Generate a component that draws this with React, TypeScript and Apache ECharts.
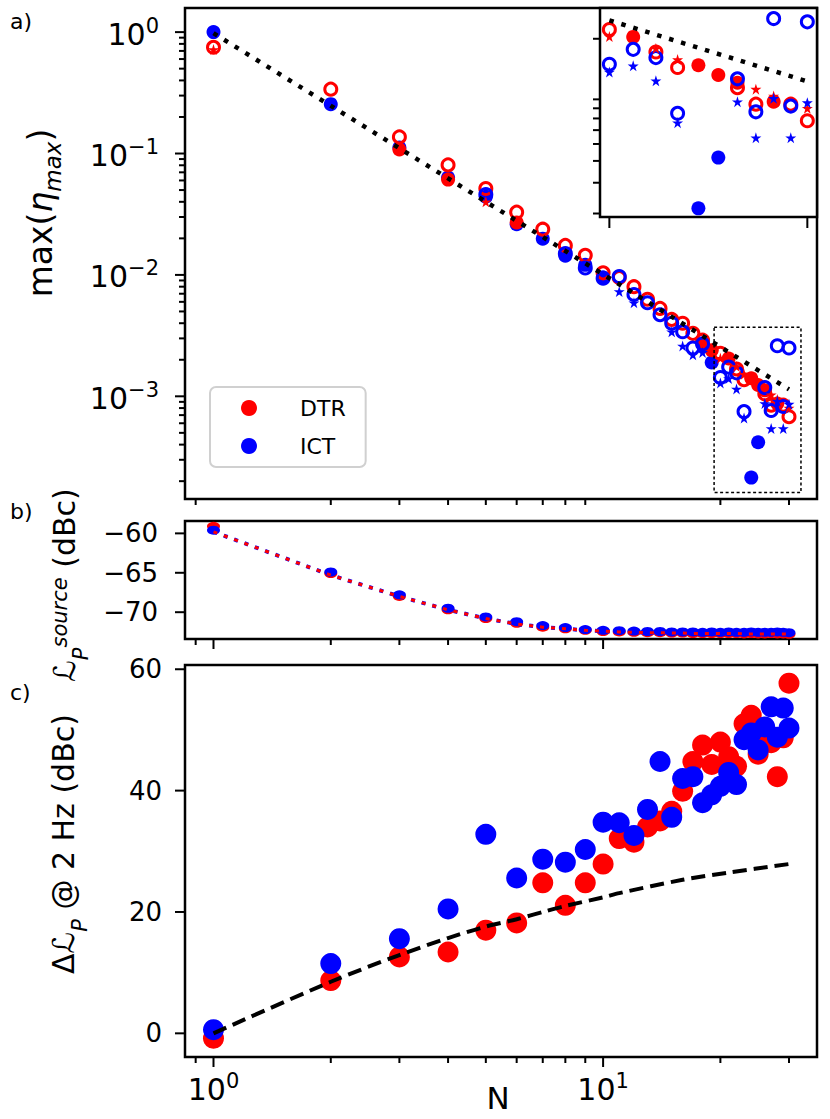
import React, { useEffect, useRef } from 'react';
import * as echarts from 'echarts';

// ---------- data ----------
const N = [1, 2, 3, 4, 5, 6, 7, 8, 9, 10, 11, 12, 13, 14, 15, 16, 17, 18, 19, 20, 21, 22, 23, 24, 25, 26, 27, 28, 29, 30];

// panel a) max(eta_max)
const dtrOpen = [0.75, 0.339, 0.137, 0.0806, 0.0515, 0.0329, 0.0238, 0.0175, 0.0145, 0.0104, 0.0095, 0.008, 0.0063, 0.0053, 0.0043, 0.004, 0.0033, 0.0029, null, 2.26e-3, null, 1.68e-3, 1.37e-3, null, null, 1.05e-3, 8.45e-4, null, 8.45e-4, 6.79e-4];
const dtrDot = [null, null, 0.108, 0.061, null, 0.027, null, null, null, null, null, null, null, null, null, null, null, 0.0027, 0.0024, null, 2.05e-3, null, null, 1.41e-3, 1.24e-3, 1.12e-3, null, 8.73e-4, null, null];
const dtrStar = [0.72, null, null, null, 0.04, null, null, null, null, null, null, null, null, null, null, null, null, null, null, 2.06e-3, null, 1.76e-3, 1.52e-3, null, null, null, 1.03e-3, 9.4e-4, null, 8.0e-4];
const ictOpen = [null, null, null, null, 0.046, null, null, 0.015, 0.0114, 0.0094, 0.0097, 0.0069, 0.0059, 0.0047, 0.004, 0.0034, 0.0025, 0.0027, null, 1.43e-3, 1.74e-3, 1.56e-3, 7.49e-4, null, null, 1.18e-3, 7.64e-4, 2.61e-3, 8.24e-4, 2.5e-3];
const ictDot = [1.0, 0.255, 0.112, 0.0635, 0.044, 0.0262, 0.0199, 0.0144, 0.0121, 0.0095, null, null, null, null, null, null, null, null, 0.0019, null, null, null, null, 2.14e-4, 4.18e-4, null, null, null, null, null];
const ictStar = [null, null, null, null, null, null, null, null, null, null, 0.0073, 0.0059, null, null, 0.0034, 0.0026, 0.0022, 0.0023, null, 1.29e-3, 1.4e-3, 1.15e-3, 6.62e-4, null, null, 8.73e-4, 5.43e-4, 9.12e-4, 5.43e-4, 8.62e-4];
const aTheoryN = [1, 30];
const aTheory = [0.98, 1.14e-3];
const insetTheoryN = [20, 30];
const insetTheory = [2.55e-3, 1.14e-3];
const boxN = [19.27, 32.2, 32.2, 19.27, 19.27];
const boxV = [3.7e-3, 3.7e-3, 1.61e-4, 1.61e-4, 3.7e-3];

// panel b) L_P^source (dBc)
const bDtr = [-59.1, -65.1, -68.0, -69.7, -70.8, -71.4, -71.9, -72.1, -72.3, -72.45, -72.5, -72.55, -72.6, -72.6, -72.65, -72.65, -72.7, -72.7, -72.7, -72.7, -72.7, -72.7, -72.75, -72.7, -72.75, -72.75, -72.7, -72.75, -72.75, -72.8];
const bIct = [-59.6, -64.9, -67.8, -69.5, -70.6, -71.2, -71.7, -71.95, -72.2, -72.3, -72.35, -72.4, -72.45, -72.45, -72.5, -72.5, -72.5, -72.55, -72.5, -72.55, -72.5, -72.55, -72.55, -72.5, -72.55, -72.55, -72.55, -72.5, -72.55, -72.6];
const bTheory = [-59.8, -65.3, -68.0, -69.7, -70.8, -71.5, -71.9, -72.1, -72.3, -72.4, -72.5, -72.55, -72.6, -72.6, -72.65, -72.65, -72.7, -72.7, -72.7, -72.7, -72.7, -72.7, -72.75, -72.75, -72.75, -72.75, -72.75, -72.75, -72.75, -72.8];

// panel c) Delta L_P @ 2 Hz (dBc)
const cDtr = [-0.8, 8.7, 12.6, 13.4, 17.0, 18.2, 24.8, 21.1, 24.8, 27.9, 32.1, 31.5, 34.0, 35.0, 36.6, 39.9, 44.8, 47.5, 44.3, 48.0, 45.6, 44.0, 51.0, 52.4, 46.0, 49.0, 47.9, 42.3, 48.7, 57.7];
const cIct = [0.6, 11.5, 15.6, 20.5, 32.8, 25.6, 28.7, 28.2, 30.3, 34.8, 34.7, 32.6, 36.9, 44.8, 35.6, 42.0, 42.3, 38.0, 39.3, 40.7, 43.0, 41.0, 48.4, 49.5, 46.7, 50.5, 53.8, 48.8, 53.6, 50.3];
const cTheoryN = [1, 2, 3, 4, 5, 6, 7, 8, 10, 11, 16, 21, 30];
const cTheory = [0, 8.5, 12.9, 15.7, 17.6, 18.8, 20.0, 21.0, 22.4, 23.1, 25.3, 26.5, 27.9];

// ticks
const xMajorTicks = [1, 10];
const xMinorTicks = [0.9, 2, 3, 4, 5, 6, 7, 8, 9, 20, 30];
const aYMajorTicks = [1, 0.1, 0.01, 0.001];
const aYMinorTicks = [1e-1, 1e-2, 1e-3, 1e-4].flatMap((d) => [2, 3, 4, 5, 6, 7, 8, 9].map((m) => +(m * d).toPrecision(3)));
const bYTicks = [-70, -65, -60];
const cYTicks = [0, 20, 40, 60];
const insetXTicks = [20, 30];
const insetYTicks = [2e-3, 9e-4, 8e-4, 7e-4, 6e-4, 5e-4, 4e-4, 3e-4, 2e-4];

// ---------- style ----------
const FONT = 'DejaVu Sans';
const RED = '#ff0000';
const BLUE = '#0000ff';
const STAR = 'path://M0,-10L2.23,-3.07L9.51,-3.09L3.61,1.17L5.88,8.09L0,3.8L-5.88,8.09L-3.61,1.17L-9.51,-3.09L-2.23,-3.07Z';

const X_RANGE = [0.845, 35.4];
const A_RANGE = [1.426e-4, 1.58];
const B_RANGE = [-73.4, -58.43];
const C_RANGE = [-3.9, 60.7];
const I_X_RANGE = [19.62, 30.6];
const I_Y_RANGE = [1.91e-4, 3.0e-3];

const pairs = (xs: number[], ys: (number | null)[]) =>
  xs.map((x, i) => [x, ys[i]]).filter((p) => p[1] !== null && p[1] !== undefined);

const powLabel = (v: number) => {
  const e = Math.log10(v);
  const r = Math.round(e);
  if (Math.abs(e - r) > 1e-6) return '';
  return `{b|10}{e|${r < 0 ? '\u2212' + -r : r}}`;
};
const powRich = {
  b: { fontSize: 30, fontFamily: FONT, color: '#000', lineHeight: 34, verticalAlign: 'bottom' },
  e: { fontSize: 21, fontFamily: FONT, color: '#000', lineHeight: 21, verticalAlign: 'top' },
};
const minusFmt = (step: number) => (v: number) => {
  if (Math.abs(v / step - Math.round(v / step)) > 1e-6) return '';
  return v < 0 ? '\u2212' + Math.abs(v) : String(v);
};

const hiddenAxisParts = {
  axisLine: { show: false },
  axisTick: { show: false },
  splitLine: { show: false },
  minorTick: { show: false },
  minorSplitLine: { show: false },
};

function tickSeries(xi: number, dir: 'x' | 'y', values: number[], ref: number, len: number) {
  return {
    type: 'custom',
    xAxisIndex: xi,
    yAxisIndex: xi,
    silent: true,
    clip: false,
    z: 20,
    data: values.map((v) => (dir === 'x' ? [v, ref] : [ref, v])),
    encode: { x: 0, y: 1 },
    renderItem: (params: any, api: any) => {
      const cs = params.coordSys;
      const p = api.coord([api.value(0), api.value(1)]);
      if (dir === 'x') {
        const y0 = cs.y + cs.height;
        return { type: 'line', shape: { x1: p[0], y1: y0, x2: p[0], y2: y0 + len }, style: { stroke: '#000', lineWidth: 2 } };
      }
      return { type: 'line', shape: { x1: cs.x - len, y1: p[1], x2: cs.x, y2: p[1] }, style: { stroke: '#000', lineWidth: 2 } };
    },
  };
}

function markerSeries(name: string, ys: (number | null)[], gi: number, kind: 'open' | 'dot' | 'star', color: string, z: number) {
  const base: any = {
    name,
    type: 'scatter',
    xAxisIndex: gi,
    yAxisIndex: gi,
    data: pairs(N, ys),
    z,
    silent: true,
  };
  if (kind === 'open') {
    base.symbol = 'circle';
    base.symbolSize = 12;
    base.itemStyle = { color: 'rgba(0,0,0,0)', borderColor: color, borderWidth: 3, opacity: 1 };
  } else if (kind === 'dot') {
    base.symbol = 'circle';
    base.symbolSize = 14;
    base.itemStyle = { color, opacity: 1 };
  } else {
    base.symbol = STAR;
    base.symbolSize = 11;
    base.itemStyle = { color, opacity: 1 };
  }
  return base;
}

export default function App() {
  const ref = useRef<HTMLDivElement>(null);
  useEffect(() => {
    document.body.style.margin = '0';
    const chart = echarts.init(ref.current!, null, { renderer: 'svg' });

    const grids = [
      { left: 185, top: 8, width: 632, height: 491 },
      { left: 185, top: 521, width: 632, height: 118 },
      { left: 185, top: 665, width: 632, height: 392 },
      { left: 600, top: 8, width: 217, height: 209 },
    ].map((g, i) => ({
      ...g,
      show: true,
      borderColor: '#000',
      borderWidth: 2.5,
      backgroundColor: i === 3 ? '#ffffff' : 'transparent',
      containLabel: false,
      outerBoundsMode: 'none',
      z: i === 3 ? 5 : 0,
    }));

    const xAxes: any[] = [0, 1, 2].map((gi) => ({
      type: 'log',
      logBase: 10,
      gridIndex: gi,
      min: X_RANGE[0],
      max: X_RANGE[1],
      ...hiddenAxisParts,
      axisLabel:
        gi === 2
          ? { show: true, formatter: powLabel, rich: powRich, margin: 13, showMinLabel: false, showMaxLabel: false }
          : { show: false },
    }));
    xAxes.push({
      type: 'log',
      logBase: 10,
      gridIndex: 3,
      min: I_X_RANGE[0],
      max: I_X_RANGE[1],
      ...hiddenAxisParts,
      axisLabel: { show: false },
    });

    const yAxes: any[] = [
      {
        type: 'log',
        logBase: 10,
        gridIndex: 0,
        min: A_RANGE[0],
        max: A_RANGE[1],
        ...hiddenAxisParts,
        axisLabel: { show: true, formatter: powLabel, rich: powRich, margin: 26, showMinLabel: false, showMaxLabel: false },
      },
      {
        type: 'value',
        gridIndex: 1,
        min: B_RANGE[0],
        max: B_RANGE[1],
        splitNumber: 3,
        ...hiddenAxisParts,
        axisLabel: { show: true, formatter: minusFmt(5), fontSize: 26, fontFamily: FONT, color: '#000', margin: 27, showMinLabel: false, showMaxLabel: false },
      },
      {
        type: 'value',
        gridIndex: 2,
        min: C_RANGE[0],
        max: C_RANGE[1],
        splitNumber: 3,
        ...hiddenAxisParts,
        axisLabel: { show: true, formatter: minusFmt(20), fontSize: 26, fontFamily: FONT, color: '#000', margin: 23, showMinLabel: false, showMaxLabel: false },
      },
      {
        type: 'log',
        logBase: 10,
        gridIndex: 3,
        min: I_Y_RANGE[0],
        max: I_Y_RANGE[1],
        ...hiddenAxisParts,
        axisLabel: { show: false },
      },
    ];

    const series: any[] = [];
    // panel a + inset markers
    [0, 3].forEach((gi) => {
      series.push(markerSeries(gi === 0 ? 'ICT' : 'ICT inset', ictDot, gi, 'dot', BLUE, gi === 0 ? 2 : 6));
      series.push(markerSeries(gi === 0 ? 'DTR' : 'DTR inset', dtrDot, gi, 'dot', RED, gi === 0 ? 2 : 6));
      series.push(markerSeries('DTR open ' + gi, dtrOpen, gi, 'open', RED, gi === 0 ? 3 : 7));
      series.push(markerSeries('ICT open ' + gi, ictOpen, gi, 'open', BLUE, gi === 0 ? 3 : 7));
      series.push(markerSeries('DTR star ' + gi, dtrStar, gi, 'star', RED, gi === 0 ? 3 : 7));
      series.push(markerSeries('ICT star ' + gi, ictStar, gi, 'star', BLUE, gi === 0 ? 3 : 7));
    });
    series.push({
      name: 'theory a',
      type: 'line',
      xAxisIndex: 0,
      yAxisIndex: 0,
      data: pairs(aTheoryN, aTheory),
      symbol: 'none',
      silent: true,
      z: 4,
      lineStyle: { color: '#000', width: 4.5, type: [4.5, 8] },
    });
    series.push({
      name: 'theory inset',
      type: 'line',
      xAxisIndex: 3,
      yAxisIndex: 3,
      data: pairs(insetTheoryN, insetTheory),
      symbol: 'none',
      silent: true,
      z: 8,
      lineStyle: { color: '#000', width: 4.5, type: [4.5, 8] },
    });
    series.push({
      name: 'zoom box',
      type: 'line',
      xAxisIndex: 0,
      yAxisIndex: 0,
      data: pairs(boxN, boxV),
      symbol: 'none',
      silent: true,
      z: 4,
      lineStyle: { color: '#000', width: 1.5, type: [3, 2.5] },
    });
    // panel b
    series.push({ name: 'b DTR', type: 'scatter', xAxisIndex: 1, yAxisIndex: 1, data: pairs(N, bDtr), symbol: 'circle', symbolSize: [13, 9], itemStyle: { color: RED, opacity: 1 }, z: 2, silent: true });
    series.push({ name: 'b ICT', type: 'scatter', xAxisIndex: 1, yAxisIndex: 1, data: pairs(N, bIct), symbol: 'circle', symbolSize: [13, 9], itemStyle: { color: BLUE, opacity: 1 }, z: 3, silent: true });
    series.push({ name: 'b theory ICT', type: 'line', xAxisIndex: 1, yAxisIndex: 1, data: pairs(N, bTheory), symbol: 'none', silent: true, z: 4, lineStyle: { color: BLUE, width: 4, type: [4, 7] } });
    series.push({ name: 'b theory DTR', type: 'line', xAxisIndex: 1, yAxisIndex: 1, data: pairs(N, bTheory), symbol: 'none', silent: true, z: 5, lineStyle: { color: RED, width: 3, type: [4, 7] } });
    // panel c
    series.push({ name: 'c DTR', type: 'scatter', xAxisIndex: 2, yAxisIndex: 2, data: pairs(N, cDtr), symbol: 'circle', symbolSize: 21, itemStyle: { color: RED, opacity: 1 }, z: 2, silent: true });
    series.push({ name: 'c ICT', type: 'scatter', xAxisIndex: 2, yAxisIndex: 2, data: pairs(N, cIct), symbol: 'circle', symbolSize: 21, itemStyle: { color: BLUE, opacity: 1 }, z: 3, silent: true });
    series.push({ name: 'c theory', type: 'line', xAxisIndex: 2, yAxisIndex: 2, data: pairs(cTheoryN, cTheory), symbol: 'none', smooth: 0.3, silent: true, z: 4, lineStyle: { color: '#000', width: 4, type: [14, 7] } });

    // ticks
    series.push(tickSeries(0, 'x', xMinorTicks, A_RANGE[0], 6));
    series.push(tickSeries(0, 'y', aYMajorTicks, X_RANGE[0], 10));
    series.push(tickSeries(0, 'y', aYMinorTicks, X_RANGE[0], 6));
    series.push(tickSeries(1, 'x', xMajorTicks, B_RANGE[0], 10));
    series.push(tickSeries(1, 'x', xMinorTicks, B_RANGE[0], 6));
    series.push(tickSeries(1, 'y', bYTicks, X_RANGE[0], 10));
    series.push(tickSeries(2, 'x', xMajorTicks, C_RANGE[0], 10));
    series.push(tickSeries(2, 'x', xMinorTicks, C_RANGE[0], 6));
    series.push(tickSeries(2, 'y', cYTicks, X_RANGE[0], 10));
    series.push(tickSeries(3, 'x', insetXTicks, I_Y_RANGE[0], 11));
    series.push(tickSeries(3, 'y', insetYTicks, I_X_RANGE[0], 7));

    const subStyle = { fontFamily: FONT, color: '#000' };
    chart.setOption({
      animation: false,
      backgroundColor: '#ffffff',
      grid: grids,
      xAxis: xAxes,
      yAxis: yAxes,
      series,
      legend: {
        data: [
          { name: 'DTR', icon: 'circle', itemStyle: { color: RED } },
          { name: 'ICT', icon: 'circle', itemStyle: { color: BLUE } },
        ],
        orient: 'vertical',
        left: 210,
        top: 387,
        padding: [10, 20, 10, 31],
        itemGap: 16,
        itemWidth: 16,
        itemHeight: 16,
        selectedMode: false,
        textStyle: { fontSize: 22, fontFamily: FONT, color: '#000', padding: [0, 0, 0, 38] },
        borderColor: '#d0d0d0',
        borderWidth: 2,
        borderRadius: 6,
        backgroundColor: 'rgba(255,255,255,0.8)',
        z: 30,
      },
      graphic: [
        { type: 'text', x: 10, y: 21, style: { text: 'a)', fontSize: 22, fontFamily: FONT, fill: '#000', verticalAlign: 'middle' } },
        { type: 'text', x: 10, y: 511, style: { text: 'b)', fontSize: 22, fontFamily: FONT, fill: '#000', verticalAlign: 'middle' } },
        { type: 'text', x: 10, y: 692, style: { text: 'c)', fontSize: 22, fontFamily: FONT, fill: '#000', verticalAlign: 'middle' } },
        { type: 'text', x: 498, y: 1098, style: { text: 'N', fontSize: 31, fontFamily: FONT, fill: '#000', align: 'center', verticalAlign: 'middle' } },
        {
          type: 'text',
          x: 44,
          y: 213,
          rotation: Math.PI / 2,
          style: {
            text: '{n|max(}{i|η}{s|max}{n|)}',
            align: 'center',
            verticalAlign: 'middle',
            rich: {
              n: { ...subStyle, fontSize: 33, lineHeight: 40, verticalAlign: 'top' },
              i: { ...subStyle, fontSize: 33, lineHeight: 40, verticalAlign: 'top', fontStyle: 'italic' },
              s: { ...subStyle, fontSize: 23, lineHeight: 22, verticalAlign: 'bottom', fontStyle: 'italic' },
            },
          },
        },
        {
          type: 'text',
          x: 70,
          y: 585,
          rotation: Math.PI / 2,
          style: {
            text: '{L|ℒ}{p|P}{u|source}{n| (dBc)}',
            align: 'center',
            verticalAlign: 'middle',
            rich: {
              L: { ...subStyle, fontSize: 30, lineHeight: 42, verticalAlign: 'top', fontStyle: 'italic' },
              n: { ...subStyle, fontSize: 30, lineHeight: 42, verticalAlign: 'top' },
              u: { ...subStyle, fontSize: 21, lineHeight: 20, verticalAlign: 'top', fontStyle: 'italic' },
              p: { ...subStyle, fontSize: 21, lineHeight: 30, verticalAlign: 'bottom', fontStyle: 'italic' },
            },
          },
        },
        {
          type: 'text',
          x: 69,
          y: 844,
          rotation: Math.PI / 2,
          style: {
            text: '{n|Δ}{L|ℒ}{p|P}{n| @ 2 Hz (dBc)}',
            align: 'center',
            verticalAlign: 'middle',
            rich: {
              L: { ...subStyle, fontSize: 30, lineHeight: 42, verticalAlign: 'top', fontStyle: 'italic' },
              n: { ...subStyle, fontSize: 30, lineHeight: 42, verticalAlign: 'top' },
              p: { ...subStyle, fontSize: 21, lineHeight: 30, verticalAlign: 'bottom', fontStyle: 'italic' },
            },
          },
        },
      ],
    });
    return () => chart.dispose();
  }, []);
  return <div ref={ref} style={{ width: 830, height: 1119 }} />;
}
